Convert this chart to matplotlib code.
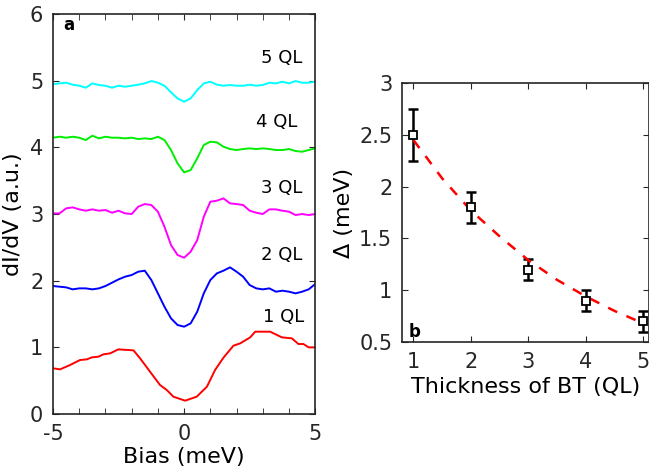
import matplotlib
matplotlib.use("Agg")
import matplotlib.pyplot as plt
import numpy as np
from matplotlib.ticker import MultipleLocator

# ---- panel a: dI/dV spectra ----
bias = np.arange(-5, 5.01, 0.25)

ql5 = [4.95, 4.96, 4.97, 4.94, 4.925, 4.895, 4.96, 4.935, 4.925, 4.895, 4.925,
       4.91, 4.925, 4.94, 4.96, 4.995, 4.97, 4.925, 4.825, 4.735, 4.685, 4.735,
       4.86, 4.96, 4.985, 4.94, 4.925, 4.935, 4.925, 4.925, 4.94, 4.925, 4.935,
       4.97, 4.96, 4.985, 4.96, 4.995, 4.97, 4.97, 4.985]
ql4 = [4.145, 4.16, 4.145, 4.16, 4.145, 4.11, 4.175, 4.135, 4.16, 4.145, 4.145,
       4.135, 4.145, 4.125, 4.135, 4.125, 4.16, 4.11, 3.96, 3.76, 3.625, 3.66,
       3.835, 4.035, 4.085, 4.075, 4.01, 3.975, 3.96, 3.975, 3.985, 3.975, 3.985,
       3.975, 3.96, 3.96, 3.975, 3.945, 3.935, 3.96, 3.985]
ql3 = [3.01, 3.01, 3.085, 3.1, 3.07, 3.05, 3.07, 3.05, 3.06, 3.02, 3.05,
       3.01, 3.0, 3.11, 3.15, 3.135, 3.035, 2.81, 2.535, 2.385, 2.345, 2.435,
       2.61, 2.96, 3.185, 3.2, 3.235, 3.16, 3.15, 3.135, 3.05, 3.02, 3.0,
       3.07, 3.07, 3.05, 3.035, 2.985, 3.0, 2.985, 3.0]
ql2 = [1.92, 1.91, 1.9, 1.87, 1.885, 1.885, 1.87, 1.885, 1.92, 1.97, 2.02,
       2.06, 2.085, 2.135, 2.15, 2.01, 1.81, 1.61, 1.435, 1.335, 1.31, 1.36,
       1.535, 1.81, 2.01, 2.11, 2.15, 2.2, 2.135, 2.06, 1.935, 1.885, 1.87,
       1.885, 1.835, 1.85, 1.835, 1.81, 1.835, 1.87, 1.95]

ql1_x = [-4.99, -4.73, -4.35, -3.97, -3.71, -3.52, -3.27, -3.08, -2.82, -2.51,
         -1.93, -1.68, -1.30, -0.92, -0.66, -0.41, 0.04, 0.48, 0.87, 1.18,
         1.50, 1.88, 2.14, 2.52, 2.71, 3.28, 3.73, 4.11, 4.36, 4.55, 4.75, 5.0]
ql1 = [0.685, 0.67, 0.735, 0.81, 0.82, 0.85, 0.86, 0.895, 0.91, 0.97,
       0.955, 0.835, 0.635, 0.435, 0.36, 0.26, 0.2, 0.26, 0.41, 0.66,
       0.845, 1.025, 1.06, 1.15, 1.235, 1.235, 1.15, 1.135, 1.05, 1.05, 1.0, 1.0]

labels = ["1 QL", "2 QL", "3 QL", "4 QL", "5 QL"]
label_y = [1.45, 2.39, 3.39, 4.38, 5.34]
label_x = [3.0, 2.95, 2.95, 2.75, 2.95]

# ---- panel b: gap vs thickness ----
thick = [1, 2, 3, 4, 5]
gap = [2.5, 1.8, 1.2, 0.9, 0.7]
gap_err = [0.25, 0.15, 0.1, 0.1, 0.1]
fit_x = [1.0, 1.5, 2.0, 2.5, 3.0, 3.5, 4.0, 4.5, 5.0]
fit_y = [2.45, 2.08, 1.77, 1.52, 1.29, 1.10, 0.94, 0.80, 0.68]

plt.rcParams.update({
    "font.family": "DejaVu Sans",
    "axes.unicode_minus": False,
    "axes.edgecolor": "#262626",
    "xtick.color": "#262626",
    "ytick.color": "#262626",
    "text.color": "#262626",
})

fig = plt.figure(figsize=(6.49, 4.75), dpi=100)
ax1 = fig.add_axes([0.0817, 0.1284, 0.404, 0.842])
ax2 = fig.add_axes([0.6194, 0.28, 0.3806, 0.545])

ax1.plot(ql1_x, ql1, color="red", lw=1.4)
ax1.plot(bias, ql2, color="blue", lw=1.4)
ax1.plot(bias, ql3, color="magenta", lw=1.4)
ax1.plot(bias, ql4, color="#00ee00", lw=1.4)
ax1.plot(bias, ql5, color="cyan", lw=1.4)
for t, lx, ly in zip(labels, label_x, label_y):
    ax1.text(lx, ly, t, fontsize=13, va="center", ha="left", color="black")
ax1.text(-4.6, 5.83, "a", fontsize=12, fontweight="bold", va="center", color="black")

ax1.set_xlim(-5, 5)
ax1.set_ylim(0, 6)
ax1.set_xticks([-5, 0, 5])
ax1.xaxis.set_minor_locator(MultipleLocator(1))
ax1.set_yticks(range(7))
ax1.set_xlabel("Bias (meV)", fontsize=16, labelpad=2)
ax1.set_ylabel("dI/dV (a.u.)", fontsize=16, labelpad=5)

ax2.errorbar(thick, gap, yerr=gap_err, fmt="none", ecolor="black",
             elinewidth=1.8, capsize=3.5, capthick=1.8)
ax2.plot(fit_x, fit_y, color="red", ls=(0, (4, 4)), lw=1.8)
ax2.plot(thick, gap, ls="none", marker="s", ms=6, mfc="white",
         mec="black", mew=1.3)
ax2.text(0.92, 0.6, "b", fontsize=12, fontweight="bold", va="center", color="black")
ax2.set_xlim(0.8, 5.1)
ax2.set_ylim(0.5, 3)
ax2.set_xticks([1, 2, 3, 4, 5])
ax2.set_yticks([0.5, 1, 1.5, 2, 2.5, 3])
ax2.set_yticklabels(["0.5", "1", "1.5", "2", "2.5", "3"])
ax2.set_xlabel("Thickness of BT (QL)", fontsize=16, labelpad=4)
ax2.set_ylabel("Δ (meV)", fontsize=16, labelpad=4)

for ax in (ax1, ax2):
    ax.tick_params(which="both", direction="in", top=True, right=True,
                   labelsize=15, pad=7)
    ax.tick_params(which="major", length=4)
    ax.tick_params(which="minor", length=4)
    for s in ax.spines.values():
        s.set_linewidth(1.2)

fig.savefig("out.png", dpi=100)
